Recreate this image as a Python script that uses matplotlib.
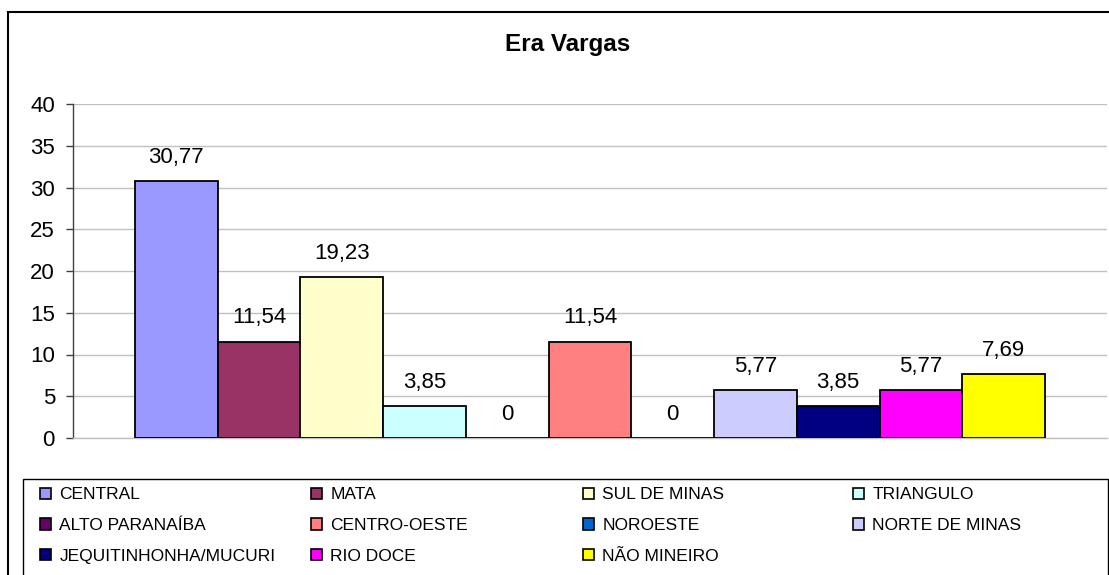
import matplotlib
matplotlib.use("Agg")
import matplotlib.pyplot as plt
from matplotlib.patches import Rectangle, Patch

plt.rcParams['font.family'] = ['Liberation Sans', 'DejaVu Sans']

title = "Era Vargas"
regions = ["CENTRAL", "MATA", "SUL DE MINAS", "TRIANGULO", "ALTO PARANAÍBA",
           "CENTRO-OESTE", "NOROESTE", "NORTE DE MINAS", "JEQUITINHONHA/MUCURI",
           "RIO DOCE", "NÃO MINEIRO"]
values = [30.77, 11.54, 19.23, 3.85, 0, 11.54, 0, 5.77, 3.85, 5.77, 7.69]
colors = ["#9999FF", "#993366", "#FFFFCC", "#CCFFFF", "#660066", "#FF8080",
          "#0066CC", "#CCCCFF", "#000080", "#FF00FF", "#FFFF00"]
yticks = [0, 5, 10, 15, 20, 25, 30, 35, 40]

W, H = 1109, 575
fig = plt.figure(figsize=(W / 100, H / 100), dpi=100)

# chart area border
fig.patches.append(Rectangle((8 / W, -0.05), 1.2, 1 - 12 / H + 0.05,
                             transform=fig.transFigure, fill=False,
                             edgecolor="black", linewidth=1.5, clip_on=False))

ax = fig.add_axes([73 / W, 1 - 438 / H, (1107 - 73) / W, (438 - 104) / H])

for i, (name, v, c) in enumerate(zip(regions, values, colors)):
    b = ax.bar(i, v, width=1.0, color=c, edgecolor="black", linewidth=1.3,
               label=name, zorder=3)
    lab = "0" if v == 0 else f"{v:.2f}".replace(".", ",")
    ax.bar_label(b, labels=[lab], padding=9.5, fontsize=16)

ax.set_xlim(-1.25, 11.25)
ax.set_ylim(0, 40)
ax.set_yticks(yticks)
ax.tick_params(axis="y", labelsize=16, length=5, width=1, pad=8,
               direction="out", color="#404040")
ax.set_xticks([])
ax.grid(axis="y", color="#c0c0c0", linewidth=1, zorder=0)
ax.set_axisbelow(True)
for s in ["top", "right"]:
    ax.spines[s].set_visible(False)
ax.spines["left"].set_color("#404040")
ax.spines["left"].set_linewidth(1)
ax.spines["bottom"].set_color("#c0c0c0")
ax.spines["bottom"].set_linewidth(1)

fig.text(568 / W, 1 - 45 / H, title, ha="center", va="center",
         fontsize=17.5, fontweight="bold")

# legend frame
fig.patches.append(Rectangle((23 / W, -0.05), (1108 - 23) / W, 1 - 479 / H + 0.05,
                             transform=fig.transFigure, fill=False,
                             edgecolor="black", linewidth=1, clip_on=False))

# legend, row-major order in 4 columns
col_x = [37, 308, 580, 850]
ncol = 4
for c in range(ncol):
    idx = list(range(c, len(regions), ncol))
    handles = [Patch(facecolor=colors[k], edgecolor="black", linewidth=1.2) for k in idx]
    labels = [regions[k] for k in idx]
    fig.legend(handles, labels, loc="upper left",
               bbox_to_anchor=(col_x[c] / W, 1 - 484 / H),
               frameon=False, fontsize=12.5, handlelength=0.63, handleheight=0.63,
               handletextpad=0.46, labelspacing=0.9, borderpad=0.2,
               borderaxespad=0)

fig.savefig("out.png", dpi=100)
